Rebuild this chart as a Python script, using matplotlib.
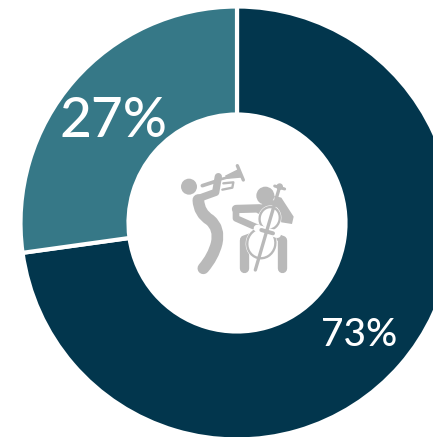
#!/usr/bin/env python3
import matplotlib
matplotlib.use("Agg")
import matplotlib.pyplot as plt
from matplotlib.patches import Circle, Ellipse, PathPatch, Polygon
from matplotlib.path import Path

labels = ["73%", "27%"]
values = [72.8, 27.2]
colors = ["#02364d", "#367887"]
icon_grey = "#b9b9b9"

plt.rcParams["font.family"] = ["Lato", "DejaVu Sans"]

fig = plt.figure(figsize=(4.33, 4.37), dpi=100)
ax = fig.add_axes([0, 0, 1, 1])

# y axis is flipped below, so this runs clockwise from the top on screen
ax.pie(values, colors=colors, startangle=-90, counterclock=True,
       center=(237, 223), radius=216.5,
       wedgeprops=dict(width=108, edgecolor="white", linewidth=3))
ax.set_xlim(0, 433)
ax.set_ylim(437, 0)
ax.set_aspect("equal")
ax.axis("off")

ax.text(114, 121.5, labels[1], color="white", fontsize=39.5, fontweight="medium", ha="center", va="center")
ax.text(359, 335, labels[0], color="white", fontsize=28, fontweight="medium", ha="center", va="center")


# icon parts were measured on 3x crops, origin is the crop corner
def stroke(origin, pts, w, color=icon_grey, curve=False):
    pts = [(origin[0] + x / 3, origin[1] + y / 3) for x, y in pts]
    code = Path.CURVE3 if curve else Path.LINETO
    codes = [Path.MOVETO] + [code] * (len(pts) - 1)
    ax.add_patch(PathPatch(Path(pts, codes), fill=False, edgecolor=color, lw=w * 0.24,
                           capstyle="round", joinstyle="round"))


def dot(origin, x, y, r):
    ax.add_patch(Circle((origin[0] + x / 3, origin[1] + y / 3), r / 3, color=icon_grey, lw=0))


def bout(origin, x, y, w, h, angle):
    c = (origin[0] + x / 3, origin[1] + y / 3)
    ax.add_patch(Ellipse(c, (w + 10) / 3, (h + 10) / 3, angle=angle, facecolor="white", lw=0))
    ax.add_patch(Ellipse(c, w / 3, h / 3, angle=angle, facecolor="white",
                         edgecolor=icon_grey, lw=7 * 0.24))


# trumpet player
tp = (175, 155)
dot(tp, 42, 95, 24)
stroke(tp, [(70, 135), (72, 175), (105, 195), (135, 220), (125, 265), (115, 305), (85, 340)], 35, curve=True)
stroke(tp, [(72, 130), (122, 112), (130, 65)], 22)
stroke(tp, [(82, 92), (125, 78)], 11)
stroke(tp, [(125, 76), (185, 60)], 8)
stroke(tp, [(145, 85), (175, 82), (172, 98), (142, 104)], 7)
stroke(tp, [(187, 32), (205, 75)], 10)
ax.add_patch(Polygon([(tp[0] + x / 3, tp[1] + y / 3) for x, y in [(150, 62), (190, 42), (200, 68), (155, 72)]],
                     color=icon_grey, lw=0))

# cello player
cp = (228, 175)
dot(cp, 112, 62, 27)
stroke(cp, [(47, 195), (47, 280)], 28)
stroke(cp, [(162, 195), (162, 280)], 28)
stroke(cp, [(47, 192), (85, 178)], 20)
stroke(cp, [(162, 192), (130, 178)], 20)
stroke(cp, [(24, 102), (95, 100)], 25)
stroke(cp, [(24, 102), (24, 130), (110, 168)], 20)
stroke(cp, [(95, 105), (120, 92), (150, 85)], 24)
ax.add_patch(Polygon([(cp[0] + x / 3, cp[1] + y / 3) for x, y in [(138, 62), (160, 68), (197, 125), (192, 147), (160, 142)]],
                     color=icon_grey, lw=0))
bout(cp, 100, 205, 84, 90, 15)
bout(cp, 125, 130, 60, 68, 15)
stroke(cp, [(88, 160), (148, 178)], 22, color="white")
stroke(cp, [(100, 165), (135, 175)], 12)
stroke(cp, [(82, 285), (155, 35)], 10)
stroke(cp, [(140, 33), (170, 42)], 9)
dot(cp, 155, 35, 10)

fig.savefig("out.png", dpi=100)
